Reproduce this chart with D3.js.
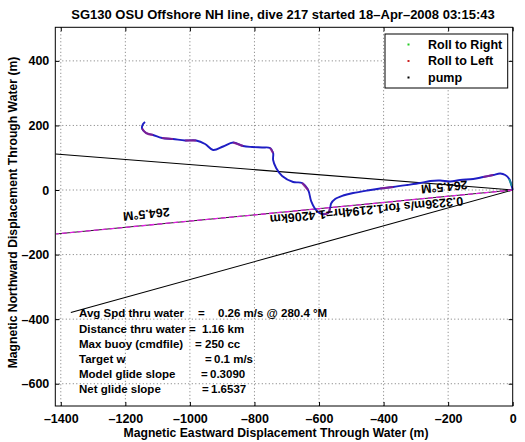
<!DOCTYPE html>
<html><head><meta charset="utf-8">
<script src="https://cdn.jsdelivr.net/npm/d3@7"></script>
<style>
html,body{margin:0;padding:0;background:#fff;}
text{font-family:"Liberation Sans",Arial,Helvetica,sans-serif;font-weight:bold;fill:#000;}
</style></head>
<body>
<svg id="chart" width="525" height="442"></svg>
<script>
// ---- data ----
const titleText = "SG130 OSU Offshore NH line, dive 217 started 18\u2013Apr\u20132008 03:15:43";
const xLabelText = "Magnetic Eastward Displacement Through Water (m)";
const yLabelText = "Magnetic Northward Displacement Through Water (m)";
const xTicks = [-1400, -1200, -1000, -800, -600, -400, -200, 0];
const yTicks = [-600, -400, -200, 0, 200, 400];
const xDomain = [-1417, 0];
const yDomain = [-669, 504];

// glider track (m east, m north)
const trackX = [0,-3.1,-10.8,-23.2,-38.7,-60.4,-91.4,-122.4,-162.7,-193.7,-224.7,-255.7,-286.6,-326.9,-370.3,-410.6,-450.9,-494.3,-525.3,-550.1,-562.5,-565.5,-571.7,-590.3,-608.9,-624.4,-633.7,-652.3,-680.2,-714.3,-732.9,-742.2,-742.2,-751.5,-776.3,-807.3,-835.2,-866.1,-897.1,-928.1,-952.9,-980.8,-1014.9,-1052.1,-1086.2,-1114.1,-1135.8,-1148.2,-1145.1,-1138.9];
const trackY = [0,12.4,34.1,46.5,51.1,46.5,40.3,34.1,31.0,26.3,29.4,27.9,21.7,15.5,9.3,4.6,-1.5,-9.3,-17.0,-27.9,-41.8,-55.8,-71.3,-74.4,-62.0,-34.1,0,21.7,24.8,43.4,68.2,93.0,114.7,130.1,131.7,133.2,136.3,147.2,134.8,124.0,142.5,153.4,153.4,158.0,161.1,170.4,176.6,190.6,204.5,210.7];
// track index ranges where glider rolled left (drawn purple) / right (teal)
const rollLeftSegs = [[45,47],[43,44],[41,42],[36,37],[32,33],[26,27],[21,23],[14,15],[5,6]];
const rollRightSegs = [[1,2]];

// heading lines (m)
const headingLineX = [0, -1414.1];
const headingLineY = [0, -136.1];
const boundLineX = [[0, -1416.2], [0, -1368.9]];
const boundLineY = [[0, 111.5], [0, -379.6]];

// annotations: text, x, y (m)
const annoText = ["264.5\u00b0M", "264.5\u00b0M", "0.3236m/s for1.2194hr=1.4206km"];
const annoX = [-1135, -212, -453];
const annoY = [-74, 10, -62];

const legendLabels = ["Roll to Right", "Roll to Left", "pump"];
const legendColors = ["#22cc22", "#cc2222", "#000000"];

const statLabels = ["Avg Spd thru water", "Distance thru water", "Max buoy (cmdfile)", "Target w", "Model glide slope", "Net glide slope"];
const statEq = [198, 189, 195, 205, 201, 202];
const statValues = ["0.26 m/s @ 280.4 \u00b0M", "1.16 km", "250 cc", "0.1 m/s", "0.3090", "1.6537"];
const statValX = [218, 202, 205, 214, 210, 211];

// ---- layout ----
const L = 55.3, R = 512.7, T = 27.3, B = 406;
const svg = d3.select("#chart");
const x = d3.scaleLinear().domain(xDomain).range([L, R]);
const y = d3.scaleLinear().domain(yDomain).range([B, T]);

// grid
const grid = svg.append("g").attr("stroke", "#555").attr("stroke-width", 0.8).attr("stroke-dasharray", "1,2.5");
grid.selectAll(".gx").data(xTicks.filter(d => d > xDomain[0] && d < xDomain[1])).join("line")
  .attr("x1", d => x(d)).attr("x2", d => x(d)).attr("y1", T).attr("y2", B);
grid.selectAll(".gy").data(yTicks).join("line")
  .attr("x1", L).attr("x2", R).attr("y1", d => y(d)).attr("y2", d => y(d));

// axes
const tickFont = 12.5;
const ax = svg.append("g").attr("transform", `translate(0,${B})`)
  .call(d3.axisBottom(x).tickValues(xTicks).tickSizeInner(-4).tickSizeOuter(0).tickPadding(8).tickFormat(d => d < 0 ? "\u2013" + Math.abs(d) : d));
const axT = svg.append("g").attr("transform", `translate(0,${T})`)
  .call(d3.axisTop(x).tickValues(xTicks).tickSizeInner(-4).tickSizeOuter(0).tickFormat(""));
const ay = svg.append("g").attr("transform", `translate(${L},0)`)
  .call(d3.axisLeft(y).tickValues(yTicks).tickSizeInner(-4).tickSizeOuter(0).tickPadding(6).tickFormat(d => d < 0 ? "\u2013" + Math.abs(d) : d));
const ayR = svg.append("g").attr("transform", `translate(${R},0)`)
  .call(d3.axisRight(y).tickValues(yTicks).tickSizeInner(-4).tickSizeOuter(0).tickFormat(""));
[ax, axT, ay, ayR].forEach(g => {
  g.select(".domain").remove();
  g.selectAll("line").attr("stroke", "#000");
  g.selectAll("text").attr("font-size", tickFont).attr("font-family", "Liberation Sans, Arial, sans-serif").attr("font-weight", "bold").attr("fill", "#000");
});

// bounding lines
const line2 = d3.line().x(d => x(d[0])).y(d => y(d[1]));
for (let i = 0; i < boundLineX.length; i++) {
  svg.append("path").attr("d", line2(d3.zip(boundLineX[i], boundLineY[i])))
    .attr("stroke", "#000").attr("stroke-width", 1.1).attr("fill", "none");
}
// heading line
svg.append("path").attr("d", line2(d3.zip(headingLineX, headingLineY)))
  .attr("stroke", "#222").attr("stroke-width", 1).attr("fill", "none");
svg.append("path").attr("d", line2(d3.zip(headingLineX, headingLineY)))
  .attr("stroke", "#e020e0").attr("stroke-width", 1.3).attr("stroke-dasharray", "5,3").attr("fill", "none");

// track
const track = d3.zip(trackX, trackY);
const tl = d3.line().x(d => x(d[0])).y(d => y(d[1])).curve(d3.curveCatmullRom);
svg.append("path").attr("d", tl(track)).attr("stroke", "#1e1ec4").attr("stroke-width", 1.9).attr("fill", "none");
rollLeftSegs.forEach(s => {
  svg.append("path").attr("d", tl(track.slice(s[0], s[1] + 1))).attr("stroke", "#8a1e8e").attr("stroke-width", 2.1).attr("fill", "none").attr("opacity", 0.85);
});
rollRightSegs.forEach(s => {
  svg.append("path").attr("d", tl(track.slice(s[0], s[1] + 1))).attr("stroke", "#1a8c9c").attr("stroke-width", 2).attr("fill", "none");
});

// annotations (upside-down)
annoText.forEach((t, i) => {
  svg.append("text").attr("font-size", 12.5).attr("text-anchor", "middle").attr("dominant-baseline", "central")
    .attr("transform", `translate(${x(annoX[i])},${y(annoY[i])}) rotate(174.5)`).text(t);
});

// stats
const statY0 = 313.3, statDy = 15.2, statFont = 11.5;
statLabels.forEach((t, i) => {
  const yy = statY0 + i * statDy;
  svg.append("text").attr("x", 79).attr("y", yy).attr("dominant-baseline", "central").attr("font-size", statFont).text(t);
  svg.append("text").attr("x", statEq[i]).attr("y", yy).attr("dominant-baseline", "central").attr("font-size", statFont).text("=");
  svg.append("text").attr("x", statValX[i]).attr("y", yy).attr("dominant-baseline", "central").attr("font-size", statFont).text(statValues[i]);
});

// frame
svg.append("rect").attr("x", L).attr("y", T).attr("width", R - L).attr("height", B - T)
  .attr("fill", "none").attr("stroke", "#000").attr("stroke-width", 1);

// legend
const lg = svg.append("g");
lg.append("rect").attr("x", 385).attr("y", 34).attr("width", 122.7).attr("height", 54)
  .attr("fill", "#fff").attr("stroke", "#000").attr("stroke-width", 1);
legendLabels.forEach((t, i) => {
  const yy = 44.5 + i * 16.5;
  lg.append("rect").attr("x", 407.5).attr("y", yy - 1).attr("width", 2).attr("height", 2).attr("fill", legendColors[i]);
  lg.append("text").attr("x", 428).attr("y", yy).attr("dominant-baseline", "central").attr("font-size", 12.5).text(t);
});

// title & labels
svg.append("text").attr("x", 283).attr("y", 14).attr("text-anchor", "middle").attr("dominant-baseline", "central")
  .attr("font-size", 13).text(titleText);
svg.append("text").attr("x", 276).attr("y", 433).attr("text-anchor", "middle").attr("dominant-baseline", "central")
  .attr("font-size", 12.2).text(xLabelText);
svg.append("text").attr("transform", `translate(13,212.5) rotate(-90)`).attr("text-anchor", "middle").attr("dominant-baseline", "central")
  .attr("font-size", 12.2).text(yLabelText);
</script>
</body></html>
